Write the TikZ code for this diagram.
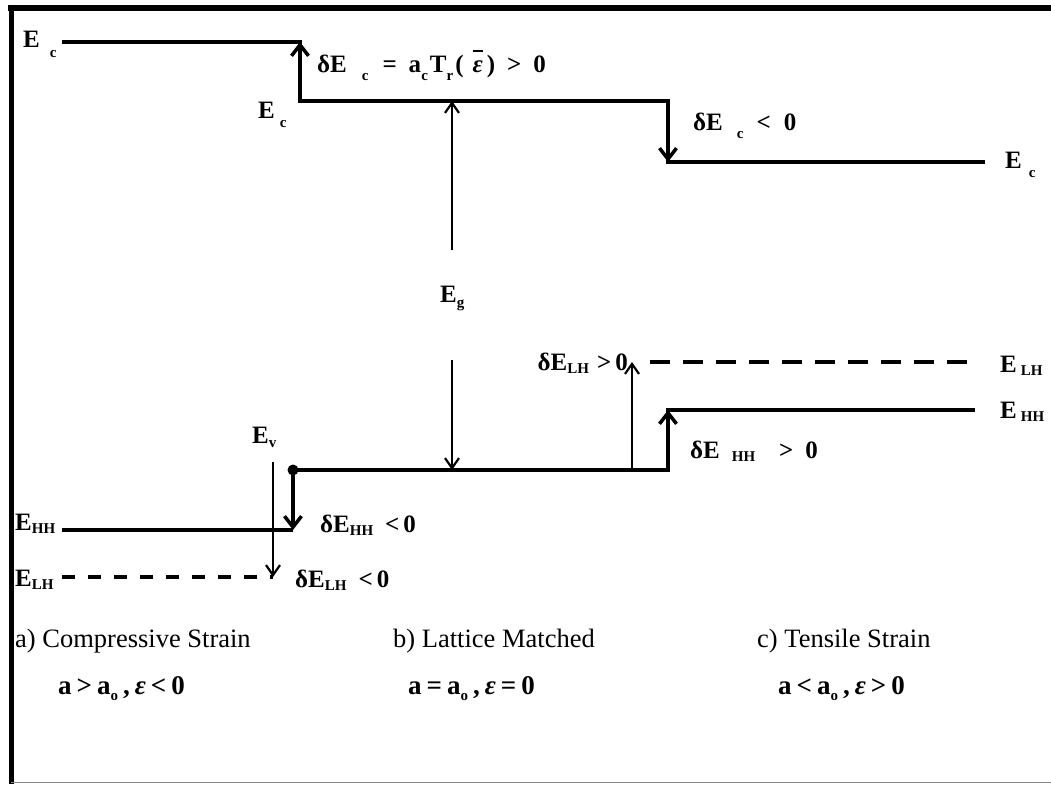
\documentclass[tikz,border=0pt]{standalone}
\usepackage{fontspec}
\setmainfont{Liberation Serif}
\usetikzlibrary{arrows.meta}
\definecolor{framegray}{HTML}{8A8A8A}
\newcommand{\bsub}[3][0pt]{\hspace{#1}\raisebox{-#2}{\fontsize{15}{15}\selectfont #3}}
\newcommand{\barep}{\ooalign{\textit{ε}\cr\hidewidth\raisebox{21pt}{\rule{10pt}{1.6pt}}\hidewidth\cr}}
\newcommand{\gp}{\hspace{5pt}}
\tikzset{
  band/.style={line width=4pt, line join=miter},
  bandarrow/.style={line width=4.5pt, -{Straight Barb[length=11pt,width=17pt,line width=3.5pt]}},
  thinarrow/.style={line width=2pt, -{Straight Barb[length=10pt,width=14pt,line width=2.2pt]}},
  dashband/.style={line width=4.5pt, dash pattern=on 13pt off 13pt},
  lbl/.style={font=\bfseries\fontsize{25}{25}\selectfont, inner sep=0pt, anchor=base west},
  strainlbl/.style={font=\fontsize{26.5}{26.5}\selectfont, inner sep=0pt, anchor=base west},
  condlbl/.style={font=\bfseries\fontsize{27}{27}\selectfont, inner sep=0pt, anchor=base west},
}

\begin{document}
\begin{tikzpicture}[x=1pt,y=-1pt]
\useasboundingbox (0,0) rectangle (1051,784);
\draw[line width=6pt] (8,8) -- (1051,8);
\draw[line width=5pt] (11,5) -- (11,784);
\draw[framegray, line width=1.5pt] (11,782.5) -- (1051,782.5);
% conduction band
\coordinate (cA) at (62,42);
\coordinate (cB) at (300,42);
\coordinate (cC) at (300,101);
\coordinate (cD) at (668,101);
\coordinate (cE) at (668,162);
\coordinate (cF) at (985,162);
\draw[band] (cA) -- (cB) -- (cC) -- (cD) -- (cE) -- (cF);
\draw[bandarrow] (cC) -- (cB);
\draw[bandarrow] (cD) -- (cE);
% valence band
\coordinate (vA) at (62,530);
\coordinate (vB) at (293,530);
\coordinate (vC) at (293,470);
\coordinate (vD) at (668,470);
\coordinate (vE) at (668,410);
\coordinate (vF) at (975,410);
\draw[band] (vA) -- (vB);
\draw[band] (vC) -- (vD) -- (vE) -- (vF);
\draw[bandarrow] (vC) -- (vB);
\draw[bandarrow] (vD) -- (vE);
\fill (vC) circle (5.5);
% light holes
\coordinate (lA) at (62,577);
\coordinate (lB) at (273,577);
\coordinate (lC) at (650,362);
\coordinate (lD) at (975,362);
\draw[dashband] (lA) -- (lB);
\draw[dashband, dash pattern=on 20pt off 13pt] (lC) -- (lD);
% shifts and gap
\coordinate (ev) at (273,462);
\coordinate (lhUp) at (632,470);
\coordinate (lhTop) at (632,362);
\coordinate (gTop) at (452,101);
\coordinate (gUp) at (452,250);
\coordinate (gDn) at (452,360);
\coordinate (gBot) at (452,470);
\draw[thinarrow] (ev) -- (lB);
\draw[thinarrow] (lhUp) -- (lhTop);
\draw[thinarrow] (gUp) -- (gTop);
\draw[thinarrow] (gDn) -- (gBot);
% labels
\node[lbl] (Eg) at (440,302) {E\bsub{5pt}{g}};
\node[lbl] (EcA) at (23,48) {E\bsub[10pt]{10pt}{c}};
\node[lbl] (EcB) at (258,118) {E\bsub[5pt]{9pt}{c}};
\node[lbl] (EcC) at (1005,168) {E\bsub[7pt]{9pt}{c}};
\node[lbl] (dEcUp) at (317,73) {δE\bsub[15pt]{7pt}{c}\hspace{14pt}=\hspace{12pt}a\bsub{7pt}{c}\hspace{2pt}T\bsub{7pt}{r}\hspace{2pt}(\hspace{9pt}\barep\hspace{4pt})\hspace{12pt}>\hspace{12pt}0};
\node[lbl] (dEcDn) at (693,130) {δE\bsub[14pt]{8pt}{c}\hspace{13pt}<\hspace{13pt}0};
\node[lbl] (Ev) at (252,443) {E\bsub{4pt}{v}};
\node[lbl] (EhhL) at (15,530) {E\bsub{3pt}{HH}};
\node[lbl] (ElhL) at (15,586) {E\bsub{3pt}{LH}};
\node[lbl] (dEhhDn) at (320,532) {δE\bsub{3pt}{HH}\hspace{12pt}<\hspace{4pt}0};
\node[lbl] (dElhDn) at (295,587) {δE\bsub{3pt}{LH}\hspace{12pt}<\hspace{4pt}0};
\node[lbl, anchor=base east] (dElhUp) at (628,370) {δE\bsub{3pt}{LH}\hspace{8pt}>\hspace{4pt}0};
\node[lbl] (ElhR) at (1000,372) {E\bsub[4pt]{3pt}{LH}};
\node[lbl] (EhhR) at (1000,418) {E\bsub[4pt]{3pt}{HH}};
\node[lbl] (dEhhUp) at (690,458) {δE\bsub[12pt]{3pt}{HH}\hspace{24pt}>\hspace{12pt}0};
% strain cases
\node[strainlbl] (capA) at (15,647) {a) Compressive Strain};
\node[strainlbl] (capB) at (393,647) {b) Lattice Matched};
\node[strainlbl] (capC) at (757,647) {c) Tensile Strain};
\node[condlbl] (condA) at (58,694) {a\gp>\gp a\bsub{6pt}{o}\gp,\gp\textit{ε}\gp<\gp 0};
\node[condlbl] (condB) at (408,694) {a\gp=\gp a\bsub{6pt}{o}\gp,\gp\textit{ε}\gp=\gp 0};
\node[condlbl] (condC) at (778,694) {a\gp<\gp a\bsub{6pt}{o}\gp,\gp\textit{ε}\gp>\gp 0};
\end{tikzpicture}
\end{document}
